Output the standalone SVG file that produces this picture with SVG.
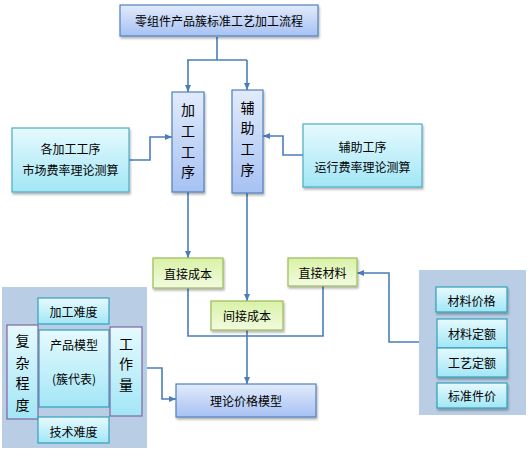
<svg xmlns="http://www.w3.org/2000/svg" width="529" height="452" viewBox="0 0 529 452">
<defs>
<linearGradient id="gBlue" x1="0" y1="0" x2="0" y2="1"><stop offset="0" stop-color="#e2ebfb"/><stop offset="1" stop-color="#a6c1f3"/></linearGradient>
<linearGradient id="gCyan" x1="0" y1="0" x2="0" y2="1"><stop offset="0" stop-color="#e6fafe"/><stop offset="1" stop-color="#a2e6f6"/></linearGradient>
<linearGradient id="gGreen" x1="0" y1="0" x2="0" y2="1"><stop offset="0" stop-color="#d9f2a6"/><stop offset="1" stop-color="#f2fbe0"/></linearGradient>
<filter id="sh" x="-10%" y="-10%" width="130%" height="130%"><feDropShadow dx="1" dy="2" stdDeviation="1.2" flood-color="#000" flood-opacity="0.3"/></filter>
<marker id="arr" markerWidth="8" markerHeight="8" refX="7" refY="4" orient="auto" markerUnits="userSpaceOnUse"><path d="M0,1 L7,4 L0,7 z" fill="#4a7ebb"/></marker>
</defs>
<style>
text{font-family:"Noto Sans CJK SC","Noto Sans CJK JP",sans-serif;font-size:12px;fill:#000;text-anchor:middle;dominant-baseline:central}
.blue{fill:url(#gBlue);stroke:#4f81bd;stroke-width:1.2}
.cyan{fill:url(#gCyan);stroke:#4bacc6;stroke-width:1.2}
.cyan2{fill:url(#gCyan);stroke:#31a0bb;stroke-width:1.2}
.green{fill:url(#gGreen);stroke:#9bbb59;stroke-width:1.2}
.purple{fill:url(#gCyan);stroke:#8064a2;stroke-width:1.2}
.panel{fill:#b9cde5}
.v{font-size:14px}
.c{fill:none;stroke:#4a7ebb;stroke-width:1.6}
</style>

<g id="connectors">
<path class="c" d="M217,37 V60"/>
<path class="c" d="M187,60 H247"/>
<path class="c" d="M188,60 V92" marker-end="url(#arr)"/>
<path class="c" d="M247,60 V90" marker-end="url(#arr)"/>
<path class="c" d="M129,160 H150 V137 H172" marker-end="url(#arr)"/>
<path class="c" d="M303,155 H283 V136 H263" marker-end="url(#arr)"/>
<path class="c" d="M188,192 V258" marker-end="url(#arr)"/>
<path class="c" d="M247,193 V301" marker-end="url(#arr)"/>
<path class="c" d="M188,288 V336 H323 V286"/>
<path class="c" d="M247,330 V384" marker-end="url(#arr)"/>
<path class="c" d="M419,342 H389 V273 H357" marker-end="url(#arr)"/>
<path class="c" d="M147,368 H162 V399 H176" marker-end="url(#arr)"/>
</g>

<g id="title"><rect class="blue" x="120" y="5" width="198" height="31" filter="url(#sh)"/><text x="219" y="20.5">零组件产品簇标准工艺加工流程</text></g>

<g id="jiagong"><rect class="blue" x="172" y="92" width="32" height="100" filter="url(#sh)"/>
<text class="v" x="188" y="109">加</text><text class="v" x="188" y="130">工</text><text class="v" x="188" y="151">工</text><text class="v" x="188" y="171">序</text></g>

<g id="fuzhu"><rect class="blue" x="232" y="90" width="31" height="103" filter="url(#sh)"/>
<text class="v" x="247.5" y="107">辅</text><text class="v" x="247.5" y="127">助</text><text class="v" x="247.5" y="148">工</text><text class="v" x="247.5" y="169">序</text></g>

<g id="left-rate"><rect class="cyan" x="12" y="128" width="117" height="64" filter="url(#sh)"/>
<text x="70.5" y="148">各加工工序</text><text x="70.5" y="169">市场费率理论测算</text></g>

<g id="right-rate"><rect class="cyan" x="303" y="124" width="119" height="63" filter="url(#sh)"/>
<text x="362.5" y="146">辅助工序</text><text x="362.5" y="166">运行费率理论测算</text></g>

<g id="zhijiechengben"><rect class="green" x="153" y="258" width="70" height="30" filter="url(#sh)"/><text x="188" y="273">直接成本</text></g>
<g id="zhijiecailiao"><rect class="green" x="288" y="258" width="69" height="28" filter="url(#sh)"/><text x="322.5" y="272">直接材料</text></g>
<g id="jianjiechengben"><rect class="green" x="211" y="301" width="72" height="29" filter="url(#sh)"/><text x="247" y="315.5">间接成本</text></g>

<g id="lilun"><rect class="blue" x="176" y="384" width="140" height="33" filter="url(#sh)"/><text x="246" y="400.5">理论价格模型</text></g>

<g id="left-panel">
<rect class="panel" x="2" y="287" width="145" height="161"/>
<rect class="cyan2" x="38" y="298" width="71" height="26"/><text x="73.5" y="311">加工难度</text>
<rect class="cyan2" x="39" y="330" width="70" height="77"/><text x="74" y="344">产品模型</text><text x="74" y="378">(簇代表)</text>
<rect class="purple" x="7" y="325" width="31" height="94"/>
<text class="v" x="22.5" y="340">复</text><text class="v" x="22.5" y="362">杂</text><text class="v" x="22.5" y="382">程</text><text class="v" x="22.5" y="404">度</text>
<rect class="purple" x="110" y="327" width="32" height="89"/>
<text class="v" x="126" y="343">工</text><text class="v" x="126" y="363">作</text><text class="v" x="126" y="384">量</text>
<rect class="cyan2" x="38" y="417" width="71" height="26"/><text x="73.5" y="431">技术难度</text>
</g>

<g id="right-panel">
<rect class="panel" x="419" y="270" width="107" height="145"/>
<rect class="cyan2" x="436" y="287" width="71" height="25" filter="url(#sh)"/><text x="471.5" y="300">材料价格</text>
<rect class="cyan2" x="437" y="319" width="70" height="29"/><text x="472" y="333.5">材料定额</text>
<rect class="cyan2" x="437" y="348" width="70" height="29" filter="url(#sh)"/><text x="472" y="362.5">工艺定额</text>
<rect class="cyan2" x="437" y="383" width="70" height="25" filter="url(#sh)"/><text x="472" y="395.5">标准件价</text>
</g>
</svg>
